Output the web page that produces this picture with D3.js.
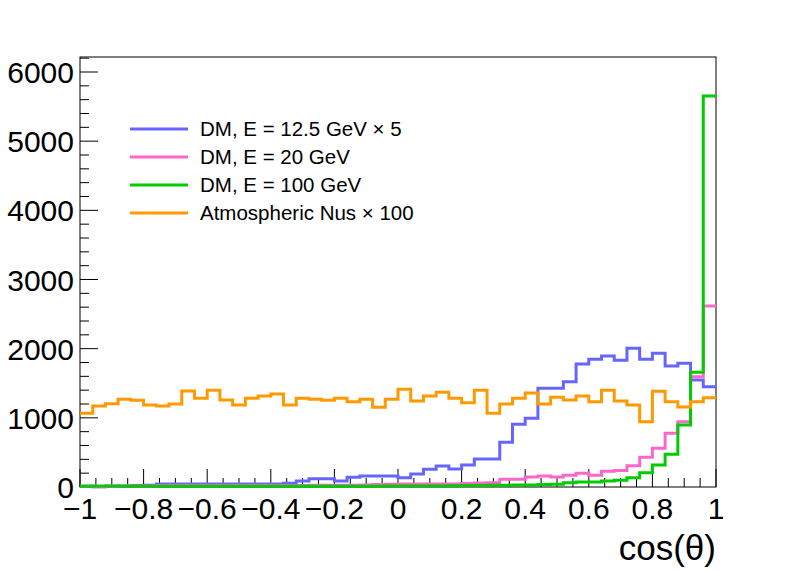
<!DOCTYPE html>
<html><head><meta charset="utf-8">
<script src="https://cdn.jsdelivr.net/npm/d3@7"></script>
<style>body{margin:0;background:#fff}text{font-family:"Liberation Sans",Arial,sans-serif}</style>
</head><body>
<script>
// 50 bins over cos(theta) in [-1, 1]
var binEdges = d3.range(51).map(function(i) { return -1 + i * 0.04; });
var dm125 = [10,5,10,15,20,25,45,45,45,45,45,45,45,45,45,45,55,87,120,120,87,140,159,159,159,135,188,256,304,260,318,405,405,646,906,993,1427,1427,1523,1778,1846,1894,1832,2005,1846,1933,1750,1788,1547,1450];
var dm20 = [10,5,10,15,15,15,20,20,20,20,20,20,20,20,20,20,20,20,25,25,25,25,30,35,40,43,45,45,45,45,52,58,60,111,111,145,159,145,169,198,169,227,240,308,429,559,776,944,1595,2617];
var dm100 = [10,15,15,10,10,10,10,10,10,10,10,10,10,10,10,10,10,10,10,10,10,10,12,12,14,14,15,15,16,18,20,20,24,25,28,30,35,40,63,72,72,87,96,135,207,318,472,896,1658,5653];
var atmo = [1065,1170,1205,1268,1253,1185,1170,1200,1388,1282,1400,1258,1185,1282,1316,1345,1185,1282,1268,1253,1282,1234,1268,1152,1268,1412,1243,1316,1369,1282,1219,1398,1065,1200,1282,1359,1200,1297,1258,1316,1234,1398,1243,1185,944,1383,1234,1157,1234,1290];
var seriesNames = ["DM, E = 12.5 GeV \u00d7 5", "DM, E = 20 GeV", "DM, E = 100 GeV", "Atmospheric Nus \u00d7 100"];
var seriesColors = ["#6666ff", "#ff66cc", "#00cc00", "#ff9900"];
var xTicks = [-1,-0.8,-0.6,-0.4,-0.2,0,0.2,0.4,0.6,0.8,1];
var yTicks = [0,1000,2000,3000,4000,5000,6000];

var W = 796, H = 572;
var x = d3.scaleLinear().domain([-1, 1]).range([80, 716]);
var y = d3.scaleLinear().domain([0, 6000]).range([487, 72]);
var frameTop = 57;

var svg = d3.select("body").append("svg").attr("width", W).attr("height", H);

// frame
svg.append("rect").attr("x", 80).attr("y", frameTop).attr("width", 636).attr("height", 487 - frameTop)
    .attr("fill", "none").attr("stroke", "#000").attr("stroke-width", 1);

// x ticks
d3.range(41).forEach(function(i) {
    var v = -1 + i * 0.05;
    var major = i % 4 === 0;
    svg.append("line").attr("x1", x(v)).attr("x2", x(v)).attr("y1", 487).attr("y2", 487 - (major ? 18 : 9))
        .attr("stroke", "#000");
});
svg.selectAll(".xl").data(xTicks).join("text")
    .attr("x", function(d) { return x(d); }).attr("y", 519)
    .attr("text-anchor", "middle").attr("font-size", 30)
    .text(function(d) { return d3.format("")(d).replace("-", "\u2212"); });

// y ticks
d3.range(0, 6201, 200).forEach(function(v) {
    var major = v % 1000 === 0;
    svg.append("line").attr("x1", 80).attr("x2", 80 + (major ? 18 : 9)).attr("y1", y(v)).attr("y2", y(v))
        .attr("stroke", "#000");
});
svg.selectAll(".yl").data(yTicks).join("text")
    .attr("x", 74).attr("y", function(d) { return y(d) + 11; })
    .attr("text-anchor", "end").attr("font-size", 30)
    .text(function(d) { return d; });

svg.append("text").attr("x", 716).attr("y", 560).attr("text-anchor", "end").attr("font-size", 35).text("cos(\u03b8)");

// step histograms
var step = d3.line().curve(d3.curveStepAfter).x(function(d) { return x(d[0]); }).y(function(d) { return y(d[1]); });
[dm125, dm20, dm100, atmo].forEach(function(vals, k) {
    var pts = vals.map(function(v, i) { return [binEdges[i], v]; });
    pts.push([1, vals[vals.length - 1]]);
    svg.append("path").attr("d", step(pts)).attr("fill", "none")
        .attr("stroke", seriesColors[k]).attr("stroke-width", 3);
});

// legend
seriesNames.forEach(function(name, k) {
    var ly = 129 + k * 28;
    svg.append("line").attr("x1", 130).attr("x2", 188).attr("y1", ly).attr("y2", ly)
        .attr("stroke", seriesColors[k]).attr("stroke-width", 3);
    svg.append("text").attr("x", 200).attr("y", ly + 7).attr("font-size", 20.5).text(name);
});
</script>
</body></html>
